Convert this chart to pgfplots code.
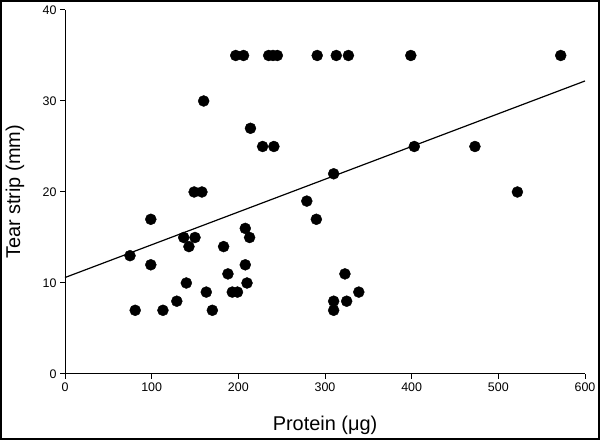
\documentclass[border=0pt]{standalone}
\usepackage{fontspec}
\setmainfont{Liberation Sans}
\usepackage{pgfplots}
\pgfplotsset{compat=1.18}
\begin{document}
\begin{tikzpicture}[x=1bp,y=1bp]
\draw[line width=2bp] (1,1) rectangle (599,439);
\begin{axis}[at={(65bp,66bp)}, anchor=south west, scale only axis,
  width=520bp, height=364bp,
  xmin=0, xmax=600, ymin=0, ymax=40,
  axis x line*=bottom, axis y line*=left,
  tick align=outside, major tick length=5bp,
  xtick={0,100,...,600}, ytick={0,10,...,40},
  /pgf/number format/assume math mode=true,
  tick label style={font=\fontsize{12.5}{15}\selectfont},
  label style={font=\fontsize{20}{24}\selectfont},
  xlabel={Protein (μg)}, ylabel={Tear strip (mm)},
  xlabel style={at={(axis description cs:0.5,-0.140)}, anchor=center},
  ylabel style={at={(axis description cs:-0.096,0.5)}, anchor=center},
  axis line style={line width=1bp},
  tick style={line width=1bp, black},
  clip=false]
\addplot[only marks, mark=*, mark size=5.5bp, black] coordinates {
(197,35) (206,35) (235,35) (240,35) (245,35) (291,35) (313,35) (327,35) (399,35) (572,35)
(160,30) (214,27) (228,25) (241,25) (310,22) (403,25) (473,25) (522,20)
(149,20) (158,20) (99,17) (75,13) (99,12) (137,15) (150,15) (143,14)
(183,14) (208,16) (213,15) (208,12) (188,11) (140,10) (210,10) (163,9)
(193,9) (199,9) (129,8) (81,7) (113,7) (170,7) (279,19) (290,17)
(323,11) (339,9) (310,8) (310,7) (325,8)
};
\addplot[black, line width=1.2bp, mark=none] coordinates {(0,10.6) (600,32.2)};
\end{axis}
\end{tikzpicture}
\end{document}
